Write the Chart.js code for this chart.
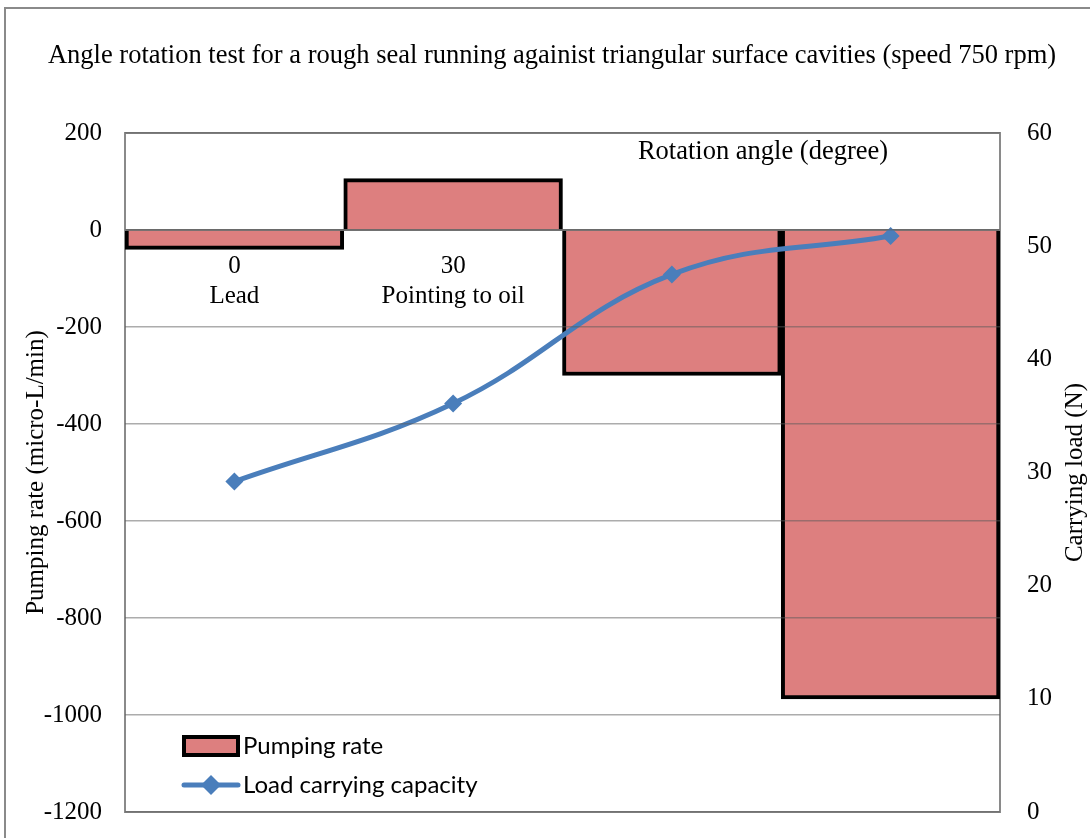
<!DOCTYPE html>
<html>
<head>
<meta charset="utf-8">
<script src="https://cdn.jsdelivr.net/npm/chart.js@4.4.1/dist/chart.umd.min.js"></script>
<style>
  html, body { margin: 0; padding: 0; background: #fff; }
  #wrap { width: 1090px; height: 838px; position: relative; }
</style>
</head>
<body>
<div id="wrap"><canvas id="chart1" width="1090" height="838"></canvas></div>
<script>
// dados do ensaio de rotação
const angles = ['0', '30', '60', '90'];
const angleNames = ['Lead', 'Pointing to oil', 'Lag', 'Pointing to air'];
const pumpingRate = [-40, 106, -300, -967];      // micro-L/min
const loadCapacity = [29.2, 36.1, 47.5, 50.9];   // N

const chartTitle = 'Angle rotation test for a rough seal running againist triangular surface cavities (speed 750 rpm)';
const xTitle = 'Rotation angle (degree)';
const yTitle = 'Pumping rate (micro-L/min)';
const y1Title = 'Carrying load (N)';

const SERIF = '"Liberation Serif", "Times New Roman", serif';
const SANS = 'Lato, "Open Sans", sans-serif';
const RED = '#DD7F7F';
const BLUE = '#4A7EBB';

// moldura, titulos e legenda desenhados a mao
const extras = {
  id: 'extras',
  beforeDraw(chart) {
    const { ctx, chartArea: a } = chart;
    ctx.save();
    ctx.fillStyle = '#fff';
    ctx.fillRect(0, 0, chart.width, chart.height);
    ctx.strokeStyle = '#8a8a8a';
    ctx.lineWidth = 2;
    ctx.strokeRect(5, 8, chart.width + 20, chart.height + 20);
    ctx.fillStyle = '#000';
    ctx.font = '26.5px ' + SERIF;
    ctx.textAlign = 'center';
    ctx.textBaseline = 'middle';
    ctx.fillText(chartTitle, 552, 56);

    // titulos dos eixos verticais
    ctx.font = '25px ' + SERIF;
    const midY = (a.top + a.bottom) / 2;
    ctx.translate(36, midY);
    ctx.rotate(-Math.PI / 2);
    ctx.fillText(yTitle, 0, 0);
    ctx.setTransform(1, 0, 0, 1, 0, 0);
    ctx.translate(1075, midY);
    ctx.rotate(-Math.PI / 2);
    ctx.fillText(y1Title, 0, 0);
    ctx.restore();
  },
  beforeDatasetsDraw(chart) {
    const { ctx, chartArea: a } = chart;
    ctx.save();
    ctx.strokeStyle = '#8a8a8a';
    ctx.lineWidth = 2;
    ctx.strokeRect(a.left, a.top, a.right - a.left, a.bottom - a.top);
    ctx.restore();
  },
  afterDraw(chart) {
    const { ctx, chartArea: a } = chart;
    ctx.save();
    ctx.fillStyle = '#000';
    ctx.font = '26.5px ' + SERIF;
    ctx.textAlign = 'center';
    ctx.textBaseline = 'middle';
    ctx.fillText(xTitle, a.left + 638, a.top + 19);

    // legenda dentro da area do grafico
    const x0 = a.left + 59, y1 = a.bottom - 66, y2 = a.bottom - 27;
    const bar = chart.data.datasets[0], line = chart.data.datasets[1];
    ctx.fillStyle = bar.backgroundColor;
    ctx.fillRect(x0, y1 - 9, 54, 18);
    ctx.strokeStyle = bar.borderColor;
    ctx.lineWidth = 4;
    ctx.strokeRect(x0, y1 - 9, 54, 18);

    ctx.strokeStyle = line.borderColor;
    ctx.lineWidth = 5;
    ctx.lineCap = 'round';
    ctx.beginPath();
    ctx.moveTo(x0, y2);
    ctx.lineTo(x0 + 54, y2);
    ctx.stroke();
    ctx.fillStyle = line.borderColor;
    ctx.beginPath();
    const cx = x0 + 27, r = 10;
    ctx.moveTo(cx, y2 - r); ctx.lineTo(cx + r, y2); ctx.lineTo(cx, y2 + r); ctx.lineTo(cx - r, y2);
    ctx.closePath();
    ctx.fill();

    ctx.fillStyle = '#000';
    ctx.font = '24px ' + SANS;
    ctx.textAlign = 'left';
    ctx.fillText(bar.label, x0 + 59, y1);
    ctx.fillText(line.label, x0 + 59, y2);
    ctx.restore();
  }
};

// largura fixa e sem folga vertical extra (o padding do layout ja cuida disso)
const fixWidth = w => s => { s.width = w; s.paddingTop = 0; s.paddingBottom = 0; };

new Chart(document.getElementById('chart1'), {
  type: 'bar',
  data: {
    labels: angles.map((a, i) => [a, angleNames[i]]),
    datasets: [
      {
        type: 'bar',
        label: 'Pumping rate',
        data: pumpingRate,
        yAxisID: 'y',
        backgroundColor: RED,
        borderColor: '#000',
        borderWidth: 4,
        borderSkipped: 'start',
        categoryPercentage: 1,
        barPercentage: 1,
        order: 1
      },
      {
        type: 'line',
        label: 'Load carrying capacity',
        data: loadCapacity,
        yAxisID: 'y1',
        borderColor: BLUE,
        backgroundColor: BLUE,
        borderWidth: 5,
        tension: 0.4,
        pointStyle: 'rectRot',
        pointRadius: 9,
        pointBorderWidth: 0,
        fill: false,
        order: 0
      }
    ]
  },
  options: {
    responsive: false,
    animation: false,
    layout: { padding: { top: 133, bottom: 26, left: 0, right: 0 } },
    plugins: {
      legend: { display: false },
      tooltip: { enabled: false }
    },
    scales: {
      x: {
        position: { y: 0 },
        z: 1,
        // o eixo fica no zero, nao precisa reservar espaco em baixo
        afterFit(s) { s.paddingTop = 0; s.paddingBottom = 0; },
        grid: { display: false },
        border: { display: true, color: '#7a7a7a', width: 2 },
        ticks: {
          color: '#000',
          font: { family: SERIF, size: 25, lineHeight: 1.2 },
          padding: 13,
          maxRotation: 0
        }
      },
      y: {
        position: 'left',
        min: -1200,
        max: 200,
        afterFit: fixWidth(125),
        grid: { z: 1, color: 'rgba(90,90,90,0.5)', lineWidth: 1.5, drawTicks: false },
        border: { display: false },
        ticks: {
          stepSize: 200,
          color: '#000',
          padding: 23,
          font: { family: SERIF, size: 25 },
          callback: v => String(v)
        }
      },
      y1: {
        position: 'right',
        min: 0,
        max: 60,
        afterFit: fixWidth(90),
        grid: { display: false, drawTicks: false },
        border: { display: false },
        ticks: {
          stepSize: 10,
          color: '#000',
          padding: 27,
          font: { family: SERIF, size: 25 }
        }
      }
    }
  },
  plugins: [extras]
});
</script>
</body>
</html>
